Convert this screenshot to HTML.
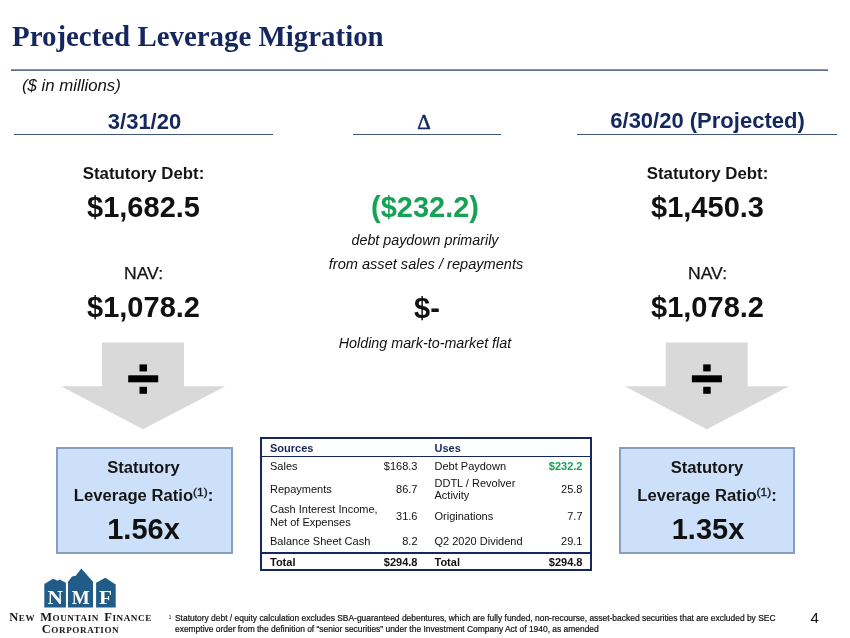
<!DOCTYPE html>
<html>
<head>
<meta charset="utf-8">
<style>
html,body{margin:0;padding:0;background:#fff;}
body{will-change:transform;width:850px;height:638px;position:relative;overflow:hidden;font-family:"Liberation Sans",sans-serif;font-size:16px;color:#111;}
.abs{position:absolute;white-space:nowrap;}
.c{text-align:center;}
.title{left:12px;top:18.2px;font-family:"Liberation Serif",serif;font-weight:bold;font-size:30.2px;color:#14275e;line-height:36px;transform:scaleX(0.957);transform-origin:0 0;}
.hr{position:absolute;height:1px;background:#3f5677;}
.hd{font-weight:bold;font-size:22px;color:#14275e;line-height:26px;}
.lbl{font-weight:bold;font-size:16.5px;line-height:20px;color:#151515;}
.big{font-weight:bold;font-size:30px;line-height:34px;color:#111;transform:scaleX(0.967);margin-top:-0.4px;}
.it{font-style:italic;font-size:14.3px;line-height:18px;color:#111;}
.box{position:absolute;background:#cce0fa;border:2px solid #889dbf;box-sizing:border-box;}
.tbl{position:absolute;left:259.5px;top:437px;width:332px;height:133.5px;border:2px solid #14275e;box-sizing:border-box;}
.t{position:absolute;font-size:11px;line-height:12.5px;white-space:nowrap;color:#111;}
.r{text-align:right;}
.b{font-weight:bold;}
.fn{font-size:8.2px;line-height:10.2px;color:#111;-webkit-text-stroke:0.2px #111;transform:scaleX(1.03);transform-origin:0 0;}
</style>
</head>
<body>
<div class="abs title">Projected Leverage Migration</div>
<div class="hr" style="left:11px;top:69px;width:817px;height:2px;background:linear-gradient(#8495ae 0,#8495ae 50%,#5d7190 50%,#5d7190 100%);"></div>
<div class="abs" style="left:22px;top:77px;font-style:italic;font-size:16.8px;line-height:18px;">($ in millions)</div>

<div class="abs hd c" style="left:15px;width:259px;top:108.5px;">3/31/20</div>
<div class="hr" style="left:14px;top:134px;width:259px;"></div>
<div class="abs hd c" style="left:350px;width:148px;top:109px;font-family:'Liberation Serif',serif;font-size:21px;font-weight:normal;-webkit-text-stroke:0.55px #14275e;">&#916;</div>
<div class="hr" style="left:353px;top:134px;width:148px;"></div>
<div class="abs hd c" style="left:578px;width:259px;top:108px;">6/30/20 (Projected)</div>
<div class="hr" style="left:577px;top:134px;width:260px;"></div>

<!-- left column -->
<div class="abs lbl c" style="left:14px;width:259px;top:163px;transform:scaleX(1.02);">Statutory Debt:</div>
<div class="abs big c" style="left:14px;width:259px;top:190.5px;">$1,682.5</div>
<div class="abs lbl c" style="left:14px;width:259px;top:263.5px;font-weight:normal;font-size:16px;transform:scaleX(1.1);-webkit-text-stroke:0.25px #151515;">NAV:</div>
<div class="abs big c" style="left:14px;width:259px;top:290.5px;">$1,078.2</div>

<!-- middle column -->
<div class="abs big c" style="left:295px;width:260px;top:190.5px;color:#14a355;">($232.2)</div>
<div class="abs it c" style="left:295px;width:260px;top:231px;">debt paydown primarily</div>
<div class="abs it c" style="left:296px;width:260px;top:255px;transform:scaleX(1.02);">from asset sales / repayments</div>
<div class="abs big c" style="left:296.5px;width:260px;top:291px;">$-</div>
<div class="abs it c" style="left:295px;width:260px;top:334px;">Holding mark-to-market flat</div>

<!-- right column -->
<div class="abs lbl c" style="left:577.5px;width:259px;top:163px;transform:scaleX(1.02);">Statutory Debt:</div>
<div class="abs big c" style="left:577.5px;width:259px;top:190.5px;">$1,450.3</div>
<div class="abs lbl c" style="left:577.5px;width:259px;top:263.5px;font-weight:normal;font-size:16px;transform:scaleX(1.1);-webkit-text-stroke:0.25px #151515;">NAV:</div>
<div class="abs big c" style="left:577.5px;width:259px;top:290.5px;">$1,078.2</div>

<!-- arrows -->
<svg class="abs" style="left:0;top:0;" width="850" height="638" viewBox="0 0 850 638">
  <polygon points="102,342.4 184,342.4 184,386.3 225.3,386.3 143,429.3 61,386.3 102,386.3" fill="#d9d9d9"/>
  <rect x="139.5" y="364.4" width="7.5" height="7" fill="#000"/>
  <rect x="128.2" y="375.3" width="30" height="7" fill="#000"/>
  <rect x="139.5" y="386.8" width="7.5" height="7" fill="#000"/>
  <g transform="translate(563.7,0)">
  <polygon points="102,342.4 184,342.4 184,386.3 225.3,386.3 143,429.3 61,386.3 102,386.3" fill="#d9d9d9"/>
  <rect x="139.5" y="364.4" width="7.5" height="7" fill="#000"/>
  <rect x="128.2" y="375.3" width="30" height="7" fill="#000"/>
  <rect x="139.5" y="386.8" width="7.5" height="7" fill="#000"/>
  </g>
</svg>

<!-- boxes -->
<div class="box" style="left:56px;top:447px;width:177px;height:107px;"></div>
<div class="abs lbl c" style="left:54.5px;width:177px;top:458.3px;font-size:16px;transform:scaleX(1.035);">Statutory</div>
<div class="abs lbl c" style="left:54.5px;width:177px;top:485.7px;font-size:16px;transform:scaleX(1.04);">Leverage Ratio<span style="font-size:11.5px;position:relative;top:-4.5px;font-weight:normal;-webkit-text-stroke:0.35px #151515;">(1)</span>:</div>
<div class="abs big c" style="left:54.5px;width:177px;top:512.5px;">1.56x</div>

<div class="box" style="left:619px;top:447px;width:176px;height:107px;"></div>
<div class="abs lbl c" style="left:619px;width:176px;top:458.3px;font-size:16px;transform:scaleX(1.035);">Statutory</div>
<div class="abs lbl c" style="left:619px;width:176px;top:485.7px;font-size:16px;transform:scaleX(1.04);">Leverage Ratio<span style="font-size:11.5px;position:relative;top:-4.5px;font-weight:normal;-webkit-text-stroke:0.35px #151515;">(1)</span>:</div>
<div class="abs big c" style="left:620px;width:176px;top:512.5px;">1.35x</div>

<!-- table -->
<div class="tbl"></div>
<div class="hr" style="left:260px;top:455.5px;width:331px;height:1.5px;background:#14275e;"></div>
<div class="hr" style="left:260px;top:552px;width:331px;height:2px;background:#14275e;"></div>

<div class="t b" style="left:270px;top:442px;color:#14275e;">Sources</div>
<div class="t b" style="left:434.5px;top:442px;color:#14275e;">Uses</div>

<div class="t" style="left:270px;top:460.2px;">Sales</div>
<div class="t r" style="left:357.5px;width:60px;top:460.2px;">$168.3</div>
<div class="t" style="left:434.5px;top:460.2px;">Debt Paydown</div>
<div class="t r b" style="left:522.5px;width:60px;top:460.2px;color:#14a355;">$232.2</div>

<div class="t" style="left:270px;top:483px;">Repayments</div>
<div class="t r" style="left:357.5px;width:60px;top:483px;">86.7</div>
<div class="t" style="left:434.5px;top:477px;line-height:12.2px;">DDTL / Revolver<br>Activity</div>
<div class="t r" style="left:522.5px;width:60px;top:483.1px;">25.8</div>

<div class="t" style="left:270px;top:503px;">Cash Interest Income,<br>Net of Expenses</div>
<div class="t r" style="left:357.5px;width:60px;top:509.5px;">31.6</div>
<div class="t" style="left:434.5px;top:509.5px;">Originations</div>
<div class="t r" style="left:522.5px;width:60px;top:509.5px;">7.7</div>

<div class="t" style="left:270px;top:535px;">Balance Sheet Cash</div>
<div class="t r" style="left:357.5px;width:60px;top:535px;">8.2</div>
<div class="t" style="left:434.5px;top:535px;">Q2 2020 Dividend</div>
<div class="t r" style="left:522.5px;width:60px;top:535px;">29.1</div>

<div class="t b" style="left:270px;top:555.7px;">Total</div>
<div class="t r b" style="left:357.5px;width:60px;top:555.7px;">$294.8</div>
<div class="t b" style="left:434.5px;top:555.7px;">Total</div>
<div class="t r b" style="left:522.5px;width:60px;top:555.7px;">$294.8</div>

<!-- logo -->
<svg class="abs" style="left:35px;top:560px;" width="90" height="52" viewBox="0 0 90 52">
  <g fill="#215c89">
    <polygon points="9.3,24.1 18,18.8 20.6,19.7 22.4,20.7 24.6,19.4 30.9,22.8 30.9,47.4 9.3,47.4"/>
    <polygon points="33,21.7 37.1,16.4 40.8,15.7 46.3,8.6 58,21.7 58,47.4 33,47.4"/>
    <polygon points="61.1,22.8 70.4,17.7 73,19.6 80.7,24.6 80.7,47.4 61.1,47.4"/>
  </g>
  <g fill="#fff" font-family="Liberation Serif, serif" font-weight="bold" font-size="19" text-anchor="middle">
    <text x="0" y="0" transform="translate(20.3,44) scale(1.12,1)">N</text>
    <text x="45.7" y="44">M</text>
    <text x="0" y="0" transform="translate(70.5,44) scale(1.12,1)">F</text>
  </g>
</svg>
<div class="abs c" style="left:0px;width:161px;top:612px;font-family:'Liberation Serif',serif;font-weight:bold;font-size:8.6px;line-height:10.6px;letter-spacing:0.55px;word-spacing:2.2px;color:#151515;transform:scaleX(1.06);transform-origin:80.5px 0;"><span style="font-size:11.8px;">N</span>EW <span style="font-size:11.8px;">M</span>OUNTAIN <span style="font-size:11.8px;">F</span>INANCE<br><span style="font-size:11.8px;">C</span>ORPORATION</div>

<!-- footnote -->
<div class="abs" style="left:168.5px;top:613px;font-size:5.5px;line-height:8px;">1</div>
<div class="abs fn" style="left:175px;top:614.3px;">Statutory debt / equity calculation excludes SBA-guaranteed debentures, which are fully funded, non-recourse, asset-backed securities that are excluded by SEC<br>exemptive order from the definition of “senior securities” under the Investment Company Act of 1940, as amended</div>
<div class="abs" style="left:810.5px;top:608.5px;font-size:15px;line-height:18px;">4</div>
</body>
</html>
